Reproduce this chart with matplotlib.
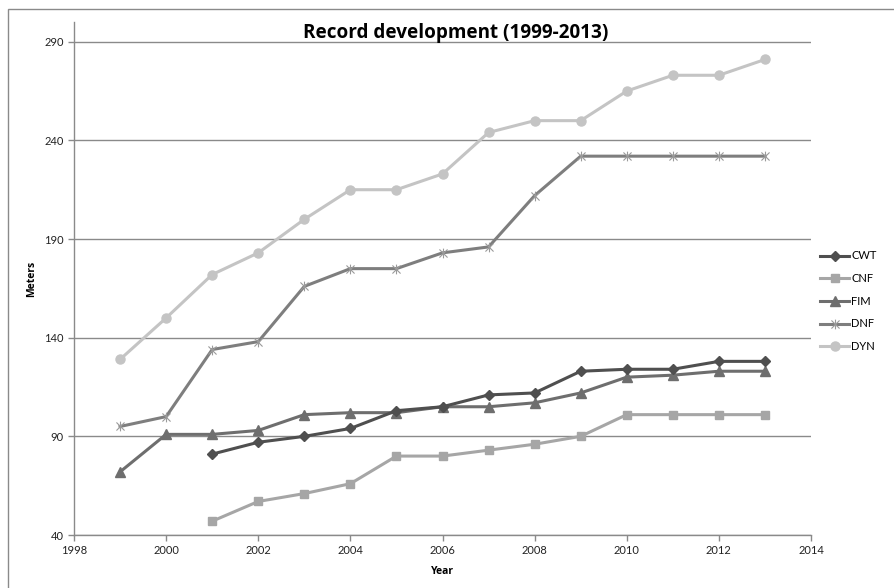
import matplotlib
matplotlib.use("Agg")
import matplotlib.pyplot as plt
from matplotlib.patches import Rectangle
from matplotlib.path import Path

years = list(range(1999, 2014))
cwt_years = list(range(2001, 2014))
cwt = [81, 87, 90, 94, 103, 105, 111, 112, 123, 124, 124, 128, 128]
cnf_years = list(range(2001, 2014))
cnf = [47, 57, 61, 66, 80, 80, 83, 86, 90, 101, 101, 101, 101]
fim = [72, 91, 91, 93, 101, 102, 102, 105, 105, 107, 112, 120, 121, 123, 123]
dnf = [95, 100, 134, 138, 166, 175, 175, 183, 186, 212, 232, 232, 232, 232, 232]
dyn = [129, 150, 172, 183, 200, 215, 215, 223, 244, 250, 250, 265, 273, 273, 281]

x_ticks = [1998, 2000, 2002, 2004, 2006, 2008, 2010, 2012, 2014]
y_ticks = [40, 90, 140, 190, 240, 290]

plt.rcParams['font.family'] = ['Lato', 'DejaVu Sans']
bold_font = ['Open Sans', 'DejaVu Sans']

# asterisk marker: X plus vertical bar
star = Path([(-1, -1), (1, 1), (-1, 1), (1, -1), (0, -1.2), (0, 1.2)],
            [Path.MOVETO, Path.LINETO, Path.MOVETO, Path.LINETO, Path.MOVETO, Path.LINETO])

fig = plt.figure(figsize=(8.94, 5.88), dpi=100)
ax = fig.add_axes([74/894, 1 - 535/588, 737/894, 513/588])

lw = 2.2
ms = 6
ax.plot(cwt_years, cwt, color='#4f4f4f', lw=lw, marker='D', ms=5.5, label='CWT', zorder=5)
ax.plot(cnf_years, cnf, color='#a6a6a6', lw=lw, marker='s', ms=ms, label='CNF', zorder=4)
ax.plot(years, fim, color='#6e6e6e', lw=lw, marker='^', ms=ms + 0.5, label='FIM', zorder=4)
ax.plot(years, dnf, color='#7e7e7e', lw=lw, marker=star, ms=ms + 1, mew=0.8,
        mec='#9a9a9a', label='DNF', zorder=3)
ax.plot(years, dyn, color='#c4c4c4', lw=lw, marker='o', ms=ms + 0.5, label='DYN', zorder=3)

ax.set_xlim(1998, 2014)
ax.set_ylim(40, 300)
ax.set_xticks(x_ticks)
ax.set_yticks(y_ticks)
ax.yaxis.grid(True, color='#8a8a8a', lw=1.0)
ax.set_axisbelow(True)
for s in ['top', 'right']:
    ax.spines[s].set_visible(False)
for s in ['left', 'bottom']:
    ax.spines[s].set_color('#8a8a8a')
    ax.spines[s].set_linewidth(1.0)
ax.tick_params(axis='both', colors='#8a8a8a', labelcolor='#222222', labelsize=8, length=4, width=1)

ax.set_xlabel('Year', fontsize=7.5, fontweight='bold', family=bold_font, labelpad=7)
ax.set_ylabel('Meters', fontsize=7.5, fontweight='bold', family=bold_font, labelpad=5)

fig.text(456/894, 1 - 33/588, 'Record development (1999-2013)', ha='center', va='center',
         fontsize=13.6, fontweight='bold', family=bold_font)

leg = fig.legend(loc='upper left', bbox_to_anchor=(816/894, 1 - 246/588), frameon=False,
                 fontsize=8, handlelength=2.6, handletextpad=0.15, labelspacing=1.05,
                 borderaxespad=0)

fig.patches.append(Rectangle((8/894, -0.1), 1.2, 1 - 9/588 + 0.1, transform=fig.transFigure,
                             fill=False, edgecolor='#8a8a8a', lw=1.0))

fig.savefig('out.png', dpi=100)
